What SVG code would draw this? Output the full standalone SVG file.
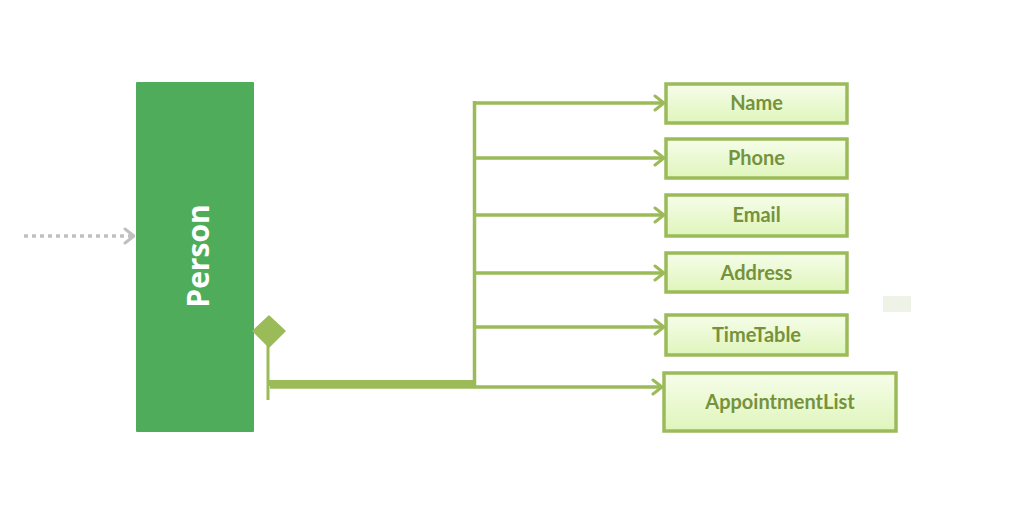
<svg xmlns="http://www.w3.org/2000/svg" width="1016" height="508" viewBox="0 0 1016 508">
<defs>
<linearGradient id="boxfill" x1="0" y1="0" x2="0" y2="1">
<stop offset="0" stop-color="#f6fdea"/>
<stop offset="1" stop-color="#dff5bb"/>
</linearGradient>
<marker id="arr" viewBox="0 0 12 18" refX="11" refY="9" markerWidth="12" markerHeight="18" markerUnits="userSpaceOnUse" orient="auto">
<path d="M2,2 L11,9 L2,16" fill="none" stroke="#9bbb59" stroke-width="3" stroke-linecap="round" stroke-linejoin="round"/>
</marker>
<marker id="arrg" viewBox="0 0 12 18" refX="11" refY="9" markerWidth="12" markerHeight="18" markerUnits="userSpaceOnUse" orient="auto">
<path d="M2,2 L11,9 L2,16" fill="none" stroke="#c0c0c0" stroke-width="3" stroke-linecap="round" stroke-linejoin="round"/>
</marker>
</defs>
<style>
.box{fill:url(#boxfill);stroke:#9bbb59;stroke-width:3.5}
.lbl{font-family:Lato,"Open Sans",sans-serif;font-weight:bold;font-size:20px;fill:#76923c;text-anchor:middle}
.ln{fill:none;stroke:#9bbb59;stroke-width:3.5}
</style>
<rect width="1016" height="508" fill="#ffffff"/>
<rect x="883" y="296" width="28" height="16" fill="#eef2e7"/>
<g id="connectors">
<line x1="24" y1="236" x2="134" y2="236" stroke="#c0c0c0" stroke-width="3.5" stroke-dasharray="4,4" marker-end="url(#arrg)"/>
<line x1="268" y1="340" x2="268" y2="400" stroke="#9bbb59" stroke-width="3"/>
<line x1="268" y1="383" x2="476" y2="383" stroke="#9bbb59" stroke-width="6"/>
<line x1="474.5" y1="101" x2="474.5" y2="386" class="ln"/>
<path class="ln" d="M473,103 H664" marker-end="url(#arr)"/>
<path class="ln" d="M473,158 H664" marker-end="url(#arr)"/>
<path class="ln" d="M473,215 H664" marker-end="url(#arr)"/>
<path class="ln" d="M473,273 H664" marker-end="url(#arr)"/>
<path class="ln" d="M473,327 H664" marker-end="url(#arr)"/>
<path class="ln" d="M270,387 H662" marker-end="url(#arr)"/>
</g>
<g id="person">
<rect x="136" y="82" width="118" height="350" fill="#4eac5b" rx="1"/>
<text transform="translate(209,256) rotate(-90)" font-family="'Open Sans',sans-serif" font-weight="bold" font-size="30" fill="#ffffff" text-anchor="middle">Person</text>
<path d="M269,316 L285,331 L269,347 L253,331 Z" fill="#9bbb59" stroke="#9bbb59" stroke-width="1.5" stroke-linejoin="round"/>
</g>
<g id="name"><rect class="box" x="666" y="84" width="181" height="39"/><text class="lbl" x="756.5" y="110">Name</text></g>
<g id="phone"><rect class="box" x="666" y="139" width="181" height="39"/><text class="lbl" x="756.5" y="165">Phone</text></g>
<g id="email"><rect class="box" x="666" y="195" width="181" height="41"/><text class="lbl" x="756.5" y="222">Email</text></g>
<g id="address"><rect class="box" x="666" y="253" width="181" height="39"/><text class="lbl" x="756.5" y="280">Address</text></g>
<g id="timetable"><rect class="box" x="666" y="315" width="181" height="40"/><text class="lbl" x="756.5" y="342">TimeTable</text></g>
<g id="appointmentlist"><rect class="box" x="664" y="373" width="232" height="58"/><text class="lbl" x="780" y="409">AppointmentList</text></g>
</svg>
